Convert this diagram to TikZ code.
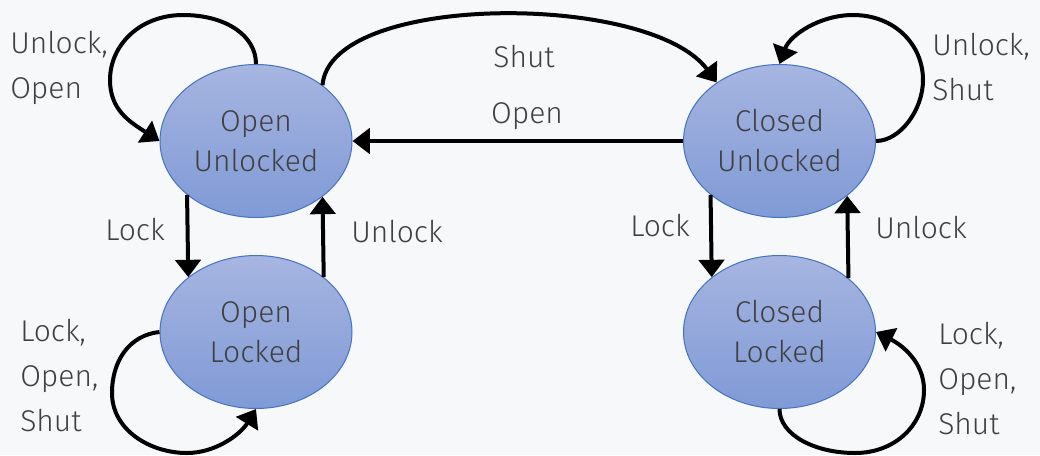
\documentclass[tikz,border=0pt]{standalone}
\usepackage{fontspec}
\setmainfont{Fira Sans}[UprightFont={* Light}]
\usetikzlibrary{arrows.meta,shapes.geometric}
\definecolor{bg}{HTML}{F7F8FA}
\definecolor{stateTop}{HTML}{A7B5E0}
\definecolor{stateBot}{HTML}{7F9AD6}
\definecolor{stateLine}{HTML}{4472C4}
\definecolor{txt}{HTML}{404040}
\tikzset{
  state/.style={ellipse, draw=stateLine, line width=0.75pt,
    top color=stateTop, bottom color=stateBot,
    minimum width=144pt, minimum height=114.75pt, inner sep=0pt,
    align=center, text=txt, font=\fontsize{22.5}{30}\selectfont},
  trans/.style={line width=3pt, -{Triangle[length=13pt,width=19pt]}},
  lbl/.style={text=txt, inner sep=0pt, font=\fontsize{22.5}{33.75}\selectfont},
}
\begin{document}
\begin{tikzpicture}[x=0.75pt,y=-0.75pt]
  \fill[bg] (0,0) rectangle (1040,455);
  \useasboundingbox (0,0) rectangle (1040,455);

  % states
  \node[state] (ou) at (256,141) {Open\\Unlocked};
  \node[state] (ol) at (256,332) {Open\\Locked};
  \node[state] (cu) at (779.5,141) {Closed\\Unlocked};
  \node[state] (cl) at (779.5,332) {Closed\\Locked};

  % vertical transitions
  \draw[trans] (ou.218.5) -- (ol.141.5);
  \draw[trans] (ol.39.4) -- (ou.320.6);
  \draw[trans] (cu.218.5) -- (cl.141.5);
  \draw[trans] (cl.38.6) -- (cu.321.4);

  % horizontal transitions
  \draw[trans] (cu.west) -- (ou.east);
  \draw[trans] (ou.40) .. controls (330,-8) and (650,-8) .. (cu.137.6);

  % self loops
  \draw[trans] (ou.north) .. controls (256,35) and (225,15) .. (183,15)
    .. controls (140,15) and (110,45) .. (110,80)
    .. controls (110,110) and (130,122) .. (ou.west);
  \draw[trans] (cu.east) .. controls (900,141) and (923,110) .. (923,80)
    .. controls (923,45) and (895,15) .. (853,15)
    .. controls (820,15) and (790,35) .. (cu.north);
  \draw[trans] (ol.west) .. controls (130,335) and (112,360) .. (112,393)
    .. controls (112,430) and (150,453) .. (187,453)
    .. controls (215,453) and (240,435) .. (ol.south);
  \draw[trans] (cl.south) .. controls (779.5,435) and (815,453) .. (855,453)
    .. controls (895,453) and (924,425) .. (924,390)
    .. controls (924,362) and (902,345) .. (cl.east);

  % transition labels
  \node[lbl, align=left, anchor=west] (l1) at (10,67.5) {Unlock,\\Open};
  \node[lbl, align=left, anchor=west] (l2) at (932,67.5) {Unlock,\\Shut};
  \node[lbl, align=left, anchor=west] (l3) at (20,376) {Lock,\\Open,\\Shut};
  \node[lbl, align=left, anchor=west] (l4) at (938,379) {Lock,\\Open,\\Shut};
  \node[lbl] (l5) at (524,57) {Shut};
  \node[lbl] (l6) at (527,116) {Open};
  \node[lbl] (l7) at (135,230) {Lock};
  \node[lbl] (l8) at (397,232) {Unlock};
  \node[lbl] (l9) at (660,226) {Lock};
  \node[lbl] (l10) at (921,228) {Unlock};
\end{tikzpicture}
\end{document}
